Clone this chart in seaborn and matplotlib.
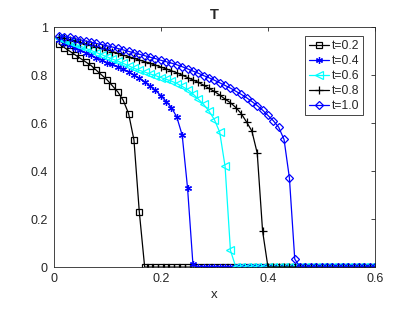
import numpy as np
import pandas as pd
import matplotlib
matplotlib.use("Agg")
import matplotlib.pyplot as plt
import seaborn as sns

x = [round(0.01 * i, 2) for i in range(1, 61)]

T_02 = [0.93, 0.915, 0.90, 0.885, 0.87, 0.855, 0.84, 0.82, 0.80, 0.78,
        0.755, 0.73, 0.695, 0.64, 0.53, 0.23, 0.0, 0.0, 0.0, 0.0,
        0.0, 0.0, 0.0, 0.0, 0.0, 0.0, 0.0, 0.0, 0.0, 0.0,
        0.0, 0.0, 0.0, 0.0, 0.0, 0.0, 0.0, 0.0, 0.0, 0.0,
        0.0, 0.0, 0.0, 0.0, 0.0, 0.0, 0.0, 0.0, 0.0, 0.0,
        0.0, 0.0, 0.0, 0.0, 0.0, 0.0, 0.0, 0.0, 0.0, 0.0]
T_04 = [0.945, 0.935, 0.925, 0.915, 0.905, 0.893, 0.882, 0.872, 0.862, 0.852,
        0.845, 0.835, 0.825, 0.815, 0.80, 0.787, 0.772, 0.755, 0.737, 0.715,
        0.69, 0.665, 0.625, 0.55, 0.33, 0.013, 0.0, 0.0, 0.0, 0.0,
        0.0, 0.0, 0.0, 0.0, 0.0, 0.0, 0.0, 0.0, 0.0, 0.0,
        0.0, 0.0, 0.0, 0.0, 0.0, 0.0, 0.0, 0.0, 0.0, 0.0,
        0.0, 0.0, 0.0, 0.0, 0.0, 0.0, 0.0, 0.0, 0.0, 0.0]
T_06 = [0.953, 0.945, 0.937, 0.929, 0.921, 0.912, 0.903, 0.894, 0.885, 0.876,
        0.867, 0.858, 0.849, 0.839, 0.829, 0.82, 0.813, 0.805, 0.798, 0.79,
        0.783, 0.775, 0.765, 0.753, 0.74, 0.722, 0.70, 0.678, 0.65, 0.615,
        0.5625, 0.42, 0.07, 0.0, 0.0, 0.0, 0.0, 0.0, 0.0, 0.0,
        0.0, 0.0, 0.0, 0.0, 0.0, 0.0, 0.0, 0.0, 0.0, 0.0,
        0.0, 0.0, 0.0, 0.0, 0.0, 0.0, 0.0, 0.0, 0.0, 0.0]
T_08 = [0.958, 0.953, 0.948, 0.942, 0.936, 0.93, 0.924, 0.918, 0.912, 0.905,
        0.898, 0.891, 0.884, 0.877, 0.87, 0.863, 0.856, 0.849, 0.842, 0.834,
        0.826, 0.818, 0.81, 0.80, 0.79, 0.78, 0.77, 0.758, 0.745, 0.732,
        0.717, 0.70, 0.685, 0.665, 0.64, 0.605, 0.567, 0.475, 0.15, 0.0,
        0.0, 0.0, 0.0, 0.0, 0.0, 0.0, 0.0, 0.0, 0.0, 0.0,
        0.0, 0.0, 0.0, 0.0, 0.0, 0.0, 0.0, 0.0, 0.0, 0.0]
T_10 = [0.965, 0.961, 0.957, 0.952, 0.947, 0.942, 0.937, 0.932, 0.927, 0.922,
        0.917, 0.911, 0.905, 0.899, 0.893, 0.887, 0.881, 0.875, 0.869, 0.862,
        0.856, 0.85, 0.843, 0.835, 0.826, 0.817, 0.808, 0.798, 0.789, 0.779,
        0.768, 0.757, 0.746, 0.733, 0.72, 0.706, 0.69, 0.673, 0.654, 0.632,
        0.61, 0.583, 0.532, 0.372, 0.033, 0.0, 0.0, 0.0, 0.0, 0.0,
        0.0, 0.0, 0.0, 0.0, 0.0, 0.0, 0.0, 0.0, 0.0, 0.0]

labels = ["t=0.2", "t=0.4", "t=0.6", "t=0.8", "t=1.0"]
series = [T_02, T_04, T_06, T_08, T_10]
colors = ["black", "#0000ff", "#00ffff", "black", "#0000ff"]
markers = ["s", (6, 2, 0), "<", "+", "D"]
msizes = [4.0, 5.0, 5.2, 5.6, 4.0]
filled = [False, True, False, True, False]

sns.set_style("white")
plt.rcParams["font.family"] = ["Liberation Sans", "DejaVu Sans"]

fig = plt.figure(figsize=(4.15, 3.12), dpi=100)
ax = fig.add_axes([0.129, 0.144, 0.775, 0.769])

for lab, y, c, m, ms, f in zip(labels, series, colors, markers, msizes, filled):
    df = pd.DataFrame({"x": x, "T": y})
    kw = dict(markerfacecolor="none") if not f else dict(markerfacecolor=c)
    sns.lineplot(data=df, x="x", y="T", ax=ax, color=c, marker=m,
                 markersize=ms, markeredgecolor=c, markeredgewidth=0.9,
                 linewidth=0.9, label=lab, **kw)

ax.set_xlim(0, 0.6)
ax.set_ylim(0, 1)
ax.set_xticks([0, 0.2, 0.4, 0.6])
ax.set_xticklabels(["0", "0.2", "0.4", "0.6"])
ax.set_yticks([0, 0.2, 0.4, 0.6, 0.8, 1.0])
ax.set_yticklabels(["0", "0.2", "0.4", "0.6", "0.8", "1"])
gray = "#262626"
for s in ax.spines.values():
    s.set_visible(True)
    s.set_color(gray)
    s.set_linewidth(0.6)
ax.tick_params(direction="in", length=3, width=0.6, colors=gray,
               labelsize=9, top=True, right=True, pad=4)
ax.set_xlabel("x", fontsize=9.5, color=gray, labelpad=3)
ax.set_ylabel("")
ax.set_title("T", fontsize=10.5, fontweight="bold", pad=6)

leg = ax.legend(loc="upper right", bbox_to_anchor=(0.963, 0.9625),
                borderaxespad=0, fontsize=8.7, handlelength=1.7,
                handletextpad=0.25, labelspacing=0.25, borderpad=0.3,
                fancybox=False, framealpha=1)
leg.get_frame().set_edgecolor(gray)
leg.get_frame().set_linewidth(0.6)

fig.savefig("out.png", dpi=100)
